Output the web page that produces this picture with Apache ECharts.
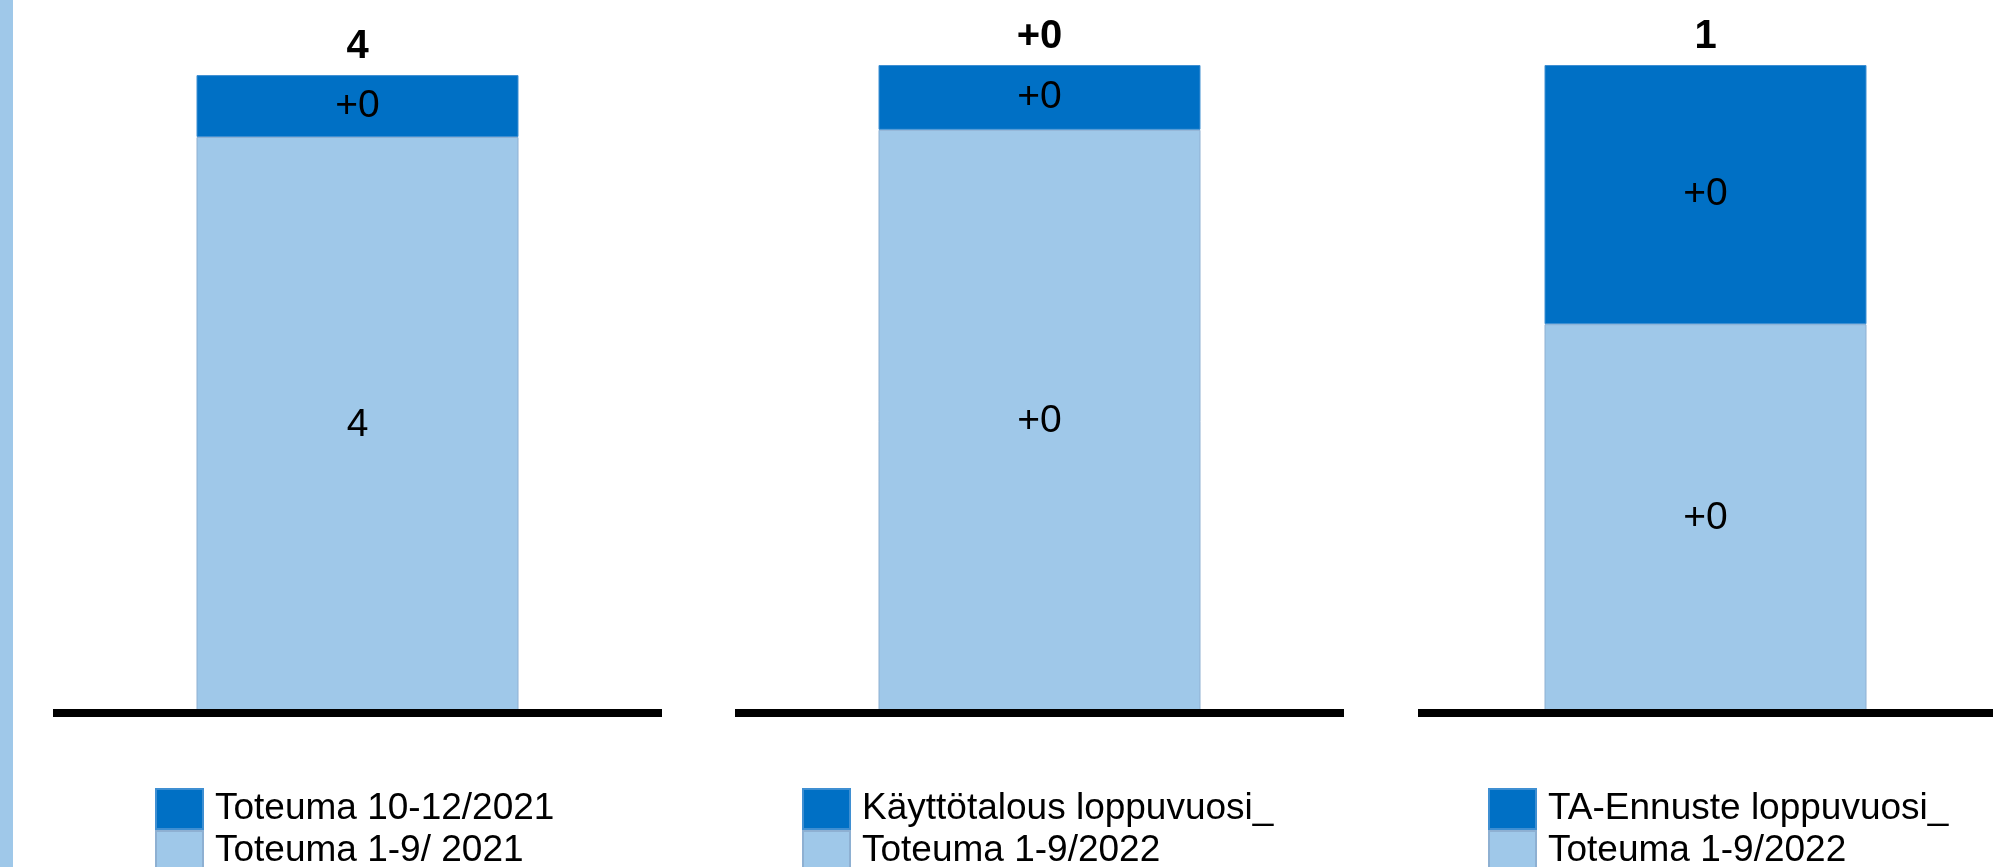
<!DOCTYPE html>
<html>
<head>
<meta charset="utf-8">
<script src="https://cdn.jsdelivr.net/npm/echarts@6/dist/echarts.min.js"></script>
<style>
  html, body { margin: 0; padding: 0; background: #fff; }
  #chart { width: 1993px; height: 867px; }
</style>
</head>
<body>
<div id="chart"></div>
<script>
// one small stacked bar per panel
var categories = ['2021', 'Käyttötalous 2022', 'TA-Ennuste 2022'];
var lightNames = ['Toteuma 1-9/ 2021', 'Toteuma 1-9/2022', 'Toteuma 1-9/2022'];
var darkNames = ['Toteuma 10-12/2021', 'Käyttötalous loppuvuosi_', 'TA-Ennuste loppuvuosi_'];
var lightValues = [4.0, 0.36, 0.45];
var darkValues = [0.43, 0.04, 0.30];
var lightLabels = ['4', '+0', '+0'];
var darkLabels = ['+0', '+0', '+0'];
var totalLabels = ['4', '+0', '1'];
var axisMax = [4.5, 0.4, 0.75];

var LIGHT = '#9fc8e9';
var DARK = '#0070c5';
var FONT = '"Liberation Sans", Arial, sans-serif';

var gridLeft = [53, 735, 1418];
var legendLeft = [155, 802, 1488];

var grids = [], xAxes = [], yAxes = [], series = [], legends = [];

function legendItem(name, left, top) {
    return {
        left: left,
        top: top,
        padding: 0,
        itemWidth: 47,
        itemHeight: 40,
        icon: 'rect',
        selectedMode: false,
        data: [name],
        textStyle: { color: '#000', fontSize: 37, fontFamily: FONT, padding: [0, 0, 0, 7] }
    };
}

categories.forEach(function (cat, i) {
    grids.push({ left: gridLeft[i], width: 609, top: 65, bottom: 154 });
    xAxes.push({
        type: 'category',
        gridIndex: i,
        data: [cat],
        z: 5,
        axisLine: { show: true, lineStyle: { color: '#000', width: 8, cap: 'butt' } },
        axisTick: { show: false },
        axisLabel: { show: false },
        splitLine: { show: false }
    });
    yAxes.push({
        type: 'value',
        gridIndex: i,
        min: 0,
        max: axisMax[i],
        show: false,
        splitLine: { show: false }
    });
    series.push({
        name: lightNames[i],
        type: 'bar',
        xAxisIndex: i,
        yAxisIndex: i,
        stack: 's' + i,
        barWidth: 322,
        itemStyle: { color: LIGHT, borderColor: '#8eb0d2', borderWidth: 1 },
        label: {
            show: true,
            position: 'inside',
            color: '#000',
            fontSize: 39,
            fontFamily: FONT,
            formatter: function () { return lightLabels[i]; }
        },
        data: [lightValues[i]]
    });
    series.push({
        name: darkNames[i],
        type: 'bar',
        xAxisIndex: i,
        yAxisIndex: i,
        stack: 's' + i,
        barWidth: 322,
        itemStyle: { color: DARK, borderColor: '#3f8fd2', borderWidth: 1 },
        label: {
            show: true,
            position: 'inside',
            color: '#000',
            fontSize: 39,
            fontFamily: FONT,
            formatter: function () { return darkLabels[i]; }
        },
        data: [darkValues[i]]
    });
    // total above the bar
    series.push({
        name: 'total' + i,
        type: 'scatter',
        xAxisIndex: i,
        yAxisIndex: i,
        symbolSize: 0,
        silent: true,
        itemStyle: { opacity: 1 },
        label: {
            show: true,
            position: 'top',
            distance: 8,
            color: '#000',
            opacity: 1,
            fontSize: 40,
            fontWeight: 'bold',
            fontFamily: FONT,
            formatter: function () { return totalLabels[i]; }
        },
        data: [lightValues[i] + darkValues[i]]
    });
    legends.push(legendItem(darkNames[i], legendLeft[i], 788));
    legends.push(legendItem(lightNames[i], legendLeft[i], 830));
});

var myChart = echarts.init(document.getElementById('chart'));
var option = {
    animation: false,
    backgroundColor: '#fff',
    graphic: [{
        type: 'rect',
        left: 0,
        top: 0,
        shape: { width: 13, height: 867 },
        style: { fill: LIGHT }
    }],
    grid: grids,
    xAxis: xAxes,
    yAxis: yAxes,
    legend: legends,
    series: series
};
myChart.setOption(option, true);
</script>
</body>
</html>
